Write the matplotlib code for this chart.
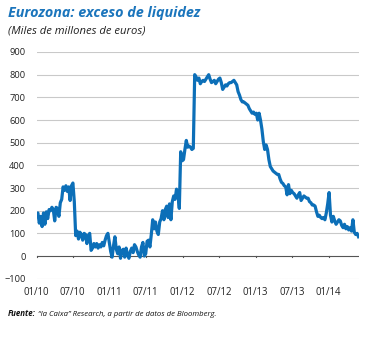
import matplotlib
matplotlib.use("Agg")
import matplotlib.pyplot as plt
import matplotlib.dates as mdates
import pandas as pd

title = "Eurozona: exceso de liquidez"
subtitle = "(Miles de millones de euros)"
source_bold = "Fuente:"
source_rest = " “la Caixa” Research, a partir de datos de Bloomberg."

start_date = "2010-01-01"
# weekly excess liquidity (bn EUR)
values = [
    180, 190, 145, 175, 130, 190, 140, 195, 165, 205,
    200, 215, 205, 155, 215, 210, 175, 235, 250, 305,
    290, 310, 285, 305, 245, 310, 322, 240, 90, 110,
    75, 105, 95, 70, 100, 95, 55, 90, 100, 25,
    35, 55, 40, 55, 35, 50, 40, 60, 45, 70,
    90, 100, 60, 20, -5, 45, 85, 30, 10, 40,
    -10, 25, 30, -5, 35, 5, -10, 20, 35, 15,
    50, 40, 20, 5, -5, 40, 60, 0, 10, 65,
    70, 40, 95, 160, 120, 150, 110, 95, 150, 165,
    200, 160, 205, 220, 170, 230, 160, 240, 265, 250,
    295, 280, 210, 460, 420, 425, 470, 510, 480, 485,
    480, 470, 475, 800, 790, 775, 785, 760, 770, 775,
    770, 780, 790, 800, 780, 765, 770, 775, 760, 770,
    780, 785, 765, 735, 745, 755, 750, 760, 765, 765,
    770, 775, 765, 755, 725, 710, 690, 680, 680, 675,
    670, 665, 650, 640, 630, 635, 625, 630, 600, 630,
    600, 560, 505, 470, 490, 470, 425, 395, 385, 375,
    370, 365, 360, 360, 340, 325, 320, 310, 305, 270,
    315, 275, 290, 280, 275, 265, 255, 270, 280, 245,
    255, 265, 260, 255, 255, 240, 235, 225, 225, 220,
    195, 175, 180, 170, 165, 170, 160, 190, 230, 280,
    180, 150, 175, 155, 140, 150, 160, 155, 135, 125,
    140, 120, 130, 115, 125, 110, 160, 105, 95, 100,
    85,
]
x_ticks = ["2010-01-01", "2010-07-01", "2011-01-01", "2011-07-01", "2012-01-01",
           "2012-07-01", "2013-01-01", "2013-07-01", "2014-01-01"]
y_ticks = [-100, 0, 100, 200, 300, 400, 500, 600, 700, 800, 900]

dates = pd.date_range(start_date, periods=len(values), freq="7D")

plt.rcParams['font.family'] = ['Open Sans', 'DejaVu Sans']

W, H = 368, 338
fig = plt.figure(figsize=(W / 100, H / 100), dpi=100)
fig.patch.set_facecolor("white")
ax = fig.add_axes([36.5 / W, 1 - 278.7 / H, (358.5 - 36.5) / W, (278.7 - 52.0) / H])

blue = "#0c6fb8"
ax.plot(dates, values, color=blue, lw=2.3, solid_joinstyle="round", zorder=3)

ax.set_ylim(-100, 900)
ax.set_xlim(dates[0], dates[-1])
ax.set_yticks(y_ticks)
for v in y_ticks:
    if v != 0:
        ax.axhline(v, color="#c9c9c9", lw=0.8, zorder=1)
ax.axhline(0, color="#555555", lw=0.8, zorder=2)

tick_dates = pd.to_datetime(x_ticks)
ax.set_xticks(tick_dates)
ax.xaxis.set_major_formatter(mdates.DateFormatter("%m/%y"))
for s in ax.spines.values():
    s.set_visible(False)
ax.tick_params(axis="y", length=0, labelsize=6.7, colors="#222222", pad=8)
ax.tick_params(axis="x", length=0, labelsize=6.9, colors="#222222", pad=6)
for td in tick_dates:
    ax.plot([td, td], [0, -5], color="#555555", lw=0.8, zorder=2, clip_on=False)

fig.text(8 / W, 1 - 16.5 / H, title, color="#1b75bc", fontsize=10.4,
         fontweight="bold", fontstyle="italic", ha="left", va="baseline")
fig.text(8 / W, 1 - 33.5 / H, subtitle, color="#222222", fontsize=8.1,
         fontstyle="italic", ha="left", va="baseline")
t1 = fig.text(8 / W, 1 - 316.5 / H, source_bold, color="#111111", fontsize=5.7,
              fontweight="bold", fontstyle="italic", ha="left", va="baseline")
fig.canvas.draw()
bb = t1.get_window_extent()
fig.text(bb.x1 / W, 1 - 316.5 / H, source_rest, color="#111111", fontsize=5.6,
         fontstyle="italic", ha="left", va="baseline")

fig.savefig("out.png", dpi=100)
